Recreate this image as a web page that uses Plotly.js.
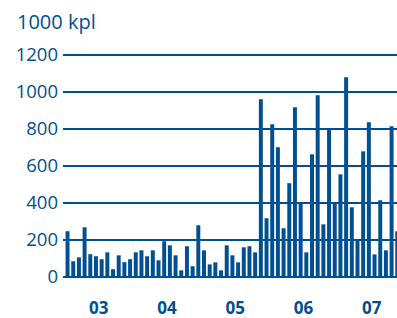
<!DOCTYPE html>
<html>
<head>
<meta charset="utf-8">
<script src="https://cdn.plot.ly/plotly-3.0.1.min.js"></script>
<style>
html,body{margin:0;padding:0;background:#fff;}
#chart{width:397px;height:318px;}
</style>
</head>
<body>
<div id="chart"></div>
<script>
// Monthly values, 1000 kpl, Jan 2003 .. Nov 2007
const months = [
  "2003-01","2003-02","2003-03","2003-04","2003-05","2003-06","2003-07","2003-08","2003-09","2003-10","2003-11","2003-12",
  "2004-01","2004-02","2004-03","2004-04","2004-05","2004-06","2004-07","2004-08","2004-09","2004-10","2004-11","2004-12",
  "2005-01","2005-02","2005-03","2005-04","2005-05","2005-06","2005-07","2005-08","2005-09","2005-10","2005-11","2005-12",
  "2006-01","2006-02","2006-03","2006-04","2006-05","2006-06","2006-07","2006-08","2006-09","2006-10","2006-11","2006-12",
  "2007-01","2007-02","2007-03","2007-04","2007-05","2007-06","2007-07","2007-08","2007-09","2007-10","2007-11"
];
const values = [
  247, 85, 106, 268, 123, 112, 96, 133, 42, 117, 80, 96,
  133, 144, 112, 144, 90, 193, 171, 117, 36, 166, 58, 279,
  144, 68, 79, 36, 171, 117, 79, 160, 166, 133, 959, 317,
  824, 700, 263, 506, 916, 398, 133, 662, 981, 284, 797, 398,
  554, 1078, 376, 198, 678, 835, 122, 414, 144, 813, 247
];
const yearLabels = ["03", "04", "05", "06", "07"];
const yTicks = [0, 200, 400, 600, 800, 1000, 1200];
const yTitle = "1000 kpl";

const blue = "rgb(0,80,145)";
const xIdx = months.map((m, i) => i);
const yearMid = yearLabels.map((y, i) => i * 12 + 5.5);

const trace = {
  type: "bar",
  x: xIdx,
  y: values,
  hovertext: months,
  hoverinfo: "text+y",
  textposition: "none",
  marker: {color: blue, line: {width: 0}},
  width: 0.7
};

const layout = {
  width: 397, height: 318,
  margin: {l: 63, r: 0, t: 49, b: 41, pad: 0},
  paper_bgcolor: "#fff", plot_bgcolor: "#fff",
  showlegend: false,
  font: {family: "Open Sans, sans-serif", color: blue},
  xaxis: {
    range: [-0.8, 57.95],
    tickmode: "array",
    tickvals: yearMid,
    ticktext: yearLabels,
    ticks: "", showgrid: false, zeroline: false, showline: false,
    tickfont: {size: 17, color: blue, family: "Open Sans, sans-serif", weight: "bold"},
    ticklabelstandoff: 19,
    fixedrange: true
  },
  yaxis: {
    range: [0, 1230],
    tickmode: "array",
    tickvals: yTicks,
    ticktext: yTicks.map(String),
    ticks: "", showline: false,
    showgrid: true, gridcolor: blue, gridwidth: 2,
    zeroline: true, zerolinecolor: blue, zerolinewidth: 2,
    tickfont: {size: 18.5, color: blue, family: "Open Sans, sans-serif"},
    ticklabelstandoff: 4,
    fixedrange: true
  },
  annotations: [{
    text: yTitle, xref: "paper", yref: "paper",
    x: -0.145, y: 1.0, xanchor: "left", yanchor: "bottom", yshift: 12,
    showarrow: false,
    font: {size: 20, color: blue, family: "Open Sans, sans-serif"}
  }]
};

Plotly.newPlot("chart", [trace], layout, {displayModeBar: false, staticPlot: true});
</script>
</body>
</html>
